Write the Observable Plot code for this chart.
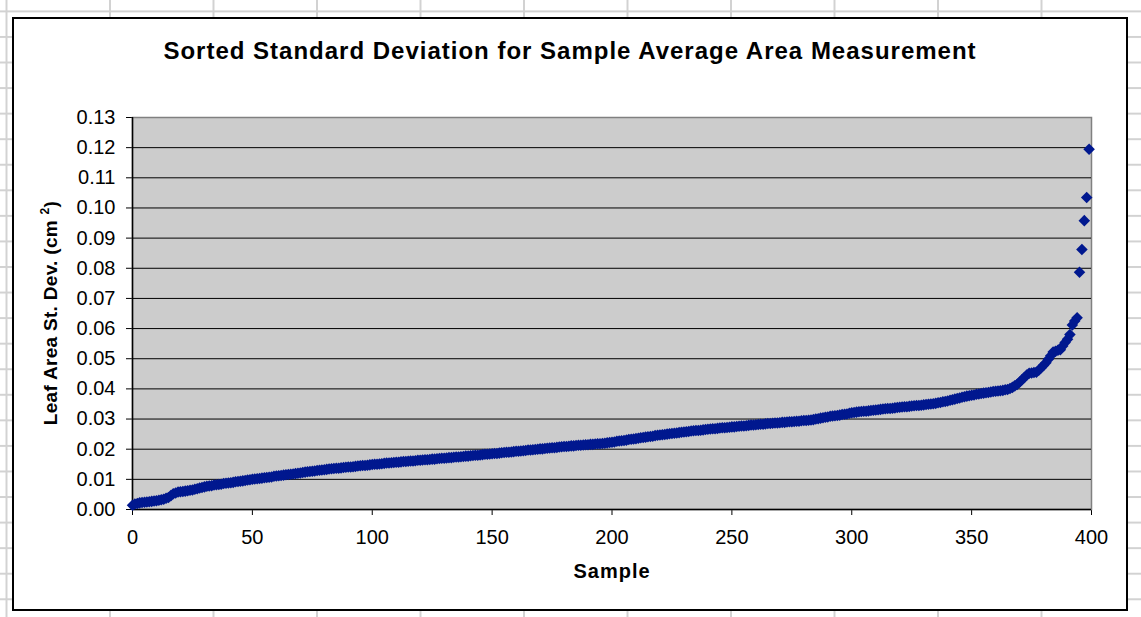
<!DOCTYPE html>
<html>
<head>
<meta charset="utf-8">
<script src="https://cdn.jsdelivr.net/npm/d3@7"></script>
<script src="https://cdn.jsdelivr.net/npm/@observablehq/plot@0.6"></script>
<style>
  html, body { margin: 0; padding: 0; }
  body { width: 1141px; height: 617px; position: relative; overflow: hidden; background: #fff; font-family: "Liberation Sans", Arial, sans-serif; }
  #sheet { position: absolute; left: 0; top: 0; }
  #chart { position: absolute; left: 12px; top: 17px; width: 1112px; height: 590px; border: 2px solid #000; background: #fff; }
  #title { position: absolute; left: 0; width: 1112px; top: 18px; text-align: center; font-weight: bold; font-size: 24px; letter-spacing: 1px; color: #000; }
  #ylabel { position: absolute; left: 36px; top: 294px; width: 0; height: 0; }
  #ylabel span { position: absolute; transform: translate(-50%, -50%) rotate(-90deg); white-space: nowrap; font-weight: bold; font-size: 19px; letter-spacing: 0.3px; }
  #xlabel { position: absolute; left: 0; width: 1196px; top: 541px; text-align: center; font-weight: bold; font-size: 20px; letter-spacing: 1px; }
  #plot { position: absolute; left: 0; top: 0; }
</style>
</head>
<body>
<svg id="sheet" width="1141" height="617">
  <defs>
    <pattern id="cols" patternUnits="userSpaceOnUse" x="5.5" y="0" width="103.5" height="617">
      <rect x="0" y="0" width="2" height="617" fill="#d2d2d2"></rect>
    </pattern>
    <pattern id="rows" patternUnits="userSpaceOnUse" x="0" y="10.4" width="1141" height="25.56">
      <rect x="0" y="0" width="1141" height="2" fill="#d2d2d2"></rect>
    </pattern>
  </defs>
  <rect width="1141" height="617" fill="url(#rows)"></rect>
  <rect width="1141" height="617" fill="url(#cols)"></rect>
</svg>
<div id="chart">
  <div id="title">Sorted Standard Deviation for Sample Average Area Measurement</div>
  <div id="plot"></div>
  <div id="ylabel"><span>Leaf Area St. Dev. (cm <sup style="font-size:12px">2</sup>)</span></div>
  <div id="xlabel">Sample</div>
</div>
<script>
// Sorted standard deviations (cm²), sample 0..399
const sdValues = [
0.0014,0.0018,0.0020,0.0022,0.0023,0.0024,0.0025,0.0026,0.0027,0.0028,0.0029,0.0031,0.0032,0.0034,0.0037,0.0040,0.0046,0.0052,0.0055,0.0058,
0.0059,0.0060,0.0061,0.0062,0.0064,0.0065,0.0067,0.0069,0.0071,0.0073,0.0075,0.0077,0.0078,0.0079,0.0081,0.0082,0.0083,0.0084,0.0086,0.0087,
0.0088,0.0089,0.0090,0.0092,0.0093,0.0094,0.0095,0.0096,0.0098,0.0099,0.0100,0.0101,0.0102,0.0103,0.0104,0.0105,0.0106,0.0107,0.0108,0.0110,
0.0111,0.0112,0.0113,0.0114,0.0115,0.0116,0.0117,0.0118,0.0119,0.0120,0.0121,0.0123,0.0124,0.0125,0.0126,0.0127,0.0128,0.0129,0.0130,0.0131,
0.0132,0.0133,0.0134,0.0135,0.0136,0.0137,0.0137,0.0138,0.0139,0.0140,0.0141,0.0141,0.0142,0.0143,0.0144,0.0145,0.0146,0.0146,0.0147,0.0148,
0.0149,0.0150,0.0150,0.0151,0.0152,0.0153,0.0154,0.0154,0.0155,0.0156,0.0157,0.0157,0.0158,0.0159,0.0159,0.0160,0.0161,0.0161,0.0162,0.0163,
0.0163,0.0164,0.0165,0.0165,0.0166,0.0167,0.0167,0.0168,0.0169,0.0170,0.0170,0.0171,0.0172,0.0172,0.0173,0.0174,0.0174,0.0175,0.0176,0.0177,
0.0177,0.0178,0.0179,0.0180,0.0180,0.0181,0.0182,0.0183,0.0183,0.0184,0.0185,0.0186,0.0186,0.0187,0.0188,0.0189,0.0190,0.0190,0.0191,0.0192,
0.0193,0.0193,0.0194,0.0195,0.0196,0.0197,0.0197,0.0198,0.0199,0.0200,0.0201,0.0201,0.0202,0.0203,0.0204,0.0205,0.0205,0.0206,0.0207,0.0208,
0.0209,0.0209,0.0210,0.0211,0.0211,0.0212,0.0213,0.0213,0.0214,0.0215,0.0215,0.0216,0.0216,0.0217,0.0218,0.0218,0.0219,0.0220,0.0221,0.0222,
0.0223,0.0224,0.0226,0.0227,0.0228,0.0229,0.0230,0.0232,0.0233,0.0234,0.0235,0.0236,0.0238,0.0239,0.0240,0.0241,0.0242,0.0243,0.0245,0.0246,
0.0247,0.0248,0.0249,0.0250,0.0251,0.0252,0.0253,0.0254,0.0255,0.0256,0.0257,0.0258,0.0259,0.0260,0.0261,0.0262,0.0262,0.0263,0.0264,0.0265,
0.0266,0.0267,0.0268,0.0268,0.0269,0.0270,0.0271,0.0271,0.0272,0.0273,0.0274,0.0274,0.0275,0.0276,0.0277,0.0277,0.0278,0.0279,0.0280,0.0280,
0.0281,0.0282,0.0283,0.0283,0.0284,0.0285,0.0285,0.0286,0.0287,0.0287,0.0288,0.0289,0.0289,0.0290,0.0291,0.0291,0.0292,0.0293,0.0293,0.0294,
0.0295,0.0295,0.0296,0.0297,0.0298,0.0300,0.0301,0.0303,0.0304,0.0306,0.0307,0.0309,0.0310,0.0311,0.0312,0.0313,0.0315,0.0316,0.0317,0.0319,
0.0321,0.0322,0.0323,0.0324,0.0325,0.0326,0.0326,0.0327,0.0328,0.0329,0.0330,0.0331,0.0332,0.0333,0.0334,0.0335,0.0335,0.0336,0.0337,0.0338,
0.0339,0.0340,0.0341,0.0341,0.0342,0.0343,0.0344,0.0345,0.0345,0.0346,0.0347,0.0348,0.0349,0.0350,0.0351,0.0352,0.0354,0.0355,0.0357,0.0358,
0.0360,0.0362,0.0364,0.0366,0.0368,0.0370,0.0372,0.0374,0.0376,0.0377,0.0379,0.0380,0.0382,0.0383,0.0385,0.0386,0.0387,0.0388,0.0390,0.0391,
0.0392,0.0393,0.0394,0.0395,0.0397,0.0398,0.0401,0.0405,0.0410,0.0415,0.0422,0.0430,0.0438,0.0446,0.0452,0.0453,0.0454,0.0455,0.0462,0.0470,
0.0478,0.0487,0.0498,0.0510,0.0522,0.0525,0.0528,0.0530,0.0542,0.0554,0.0565,0.0580,0.0612,0.0625,0.0636,0.0787,0.0862,0.0958,0.1035,0.1195
];
const xTicks = [0, 50, 100, 150, 200, 250, 300, 350, 400];
const yTicks = [0, 0.01, 0.02, 0.03, 0.04, 0.05, 0.06, 0.07, 0.08, 0.09, 0.10, 0.11, 0.12, 0.13];
const gridLines = [0.01, 0.02, 0.03, 0.04, 0.05, 0.06, 0.07, 0.08, 0.09, 0.10, 0.11, 0.12];

const data = sdValues.map((v, i) => ({sample: i, sd: v}));

const chart = Plot.plot({
  width: 1112,
  height: 590,
  marginLeft: 118,
  marginRight: 35,
  marginTop: 98,
  marginBottom: 100,
  style: {fontFamily: "'Liberation Sans', Arial, sans-serif", fontSize: "20px", background: "transparent", color: "#000", overflow: "visible"},
  x: {domain: [0, 400], ticks: xTicks, tickSize: 6, tickPadding: 14, label: null},
  y: {domain: [0, 0.13], ticks: yTicks, tickSize: 6, tickPadding: 11, tickFormat: d3.format(".2f"), label: null},
  marks: [
    Plot.frame({fill: "#cccccc", stroke: "#808080", strokeWidth: 1.5}),
    Plot.ruleY(gridLines, {stroke: "#000", strokeWidth: 1}),
    Plot.ruleX([0], {stroke: "#000", strokeWidth: 1.5}),
    Plot.ruleY([0], {stroke: "#000", strokeWidth: 1.5}),
    Plot.dot(data, {x: "sample", y: "sd", symbol: "diamond2", r: 5.2, fill: "#00188f", stroke: "none"})
  ]
});
document.getElementById("plot").appendChild(chart);
</script>
</body>
</html>
